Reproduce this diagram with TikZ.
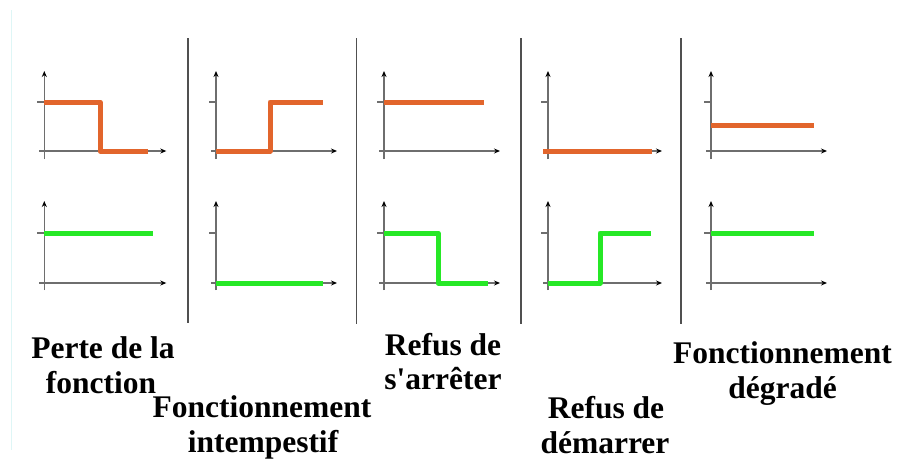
\documentclass[tikz,border=0pt]{standalone}
\usepackage{fontspec}
\newfontfamily\lblfont{Liberation Serif}
\usetikzlibrary{arrows.meta}
\definecolor{curveorange}{RGB}{226,101,44}
\definecolor{curvegreen}{RGB}{38,232,38}
\definecolor{axisgray}{RGB}{110,110,110}
\definecolor{sepgray}{RGB}{80,80,80}
\definecolor{faintcyan}{RGB}{222,246,246}
\tikzset{
  axisline/.style={draw=axisgray, line width=1.2pt},
  axisarrow/.style={axisline, -{Stealth[length=6pt,width=5pt,black]}},
  tickline/.style={draw=axisgray, line width=1.2pt},
  ocurve/.style={draw=curveorange, line width=5pt, line join=round},
  gcurve/.style={draw=curvegreen, line width=5pt, line join=round},
  sepline/.style={draw=sepgray, line width=1.5pt},
  lbl/.style={anchor=base, inner sep=0pt, font=\lblfont\fontsize{31.5}{35}\selectfont\bfseries}
}
\newcommand{\axespair}[2]{%
  % #1 = x of y-axis, #2 = length of x-axis beyond y-axis
  \draw[axisarrow] (#1-5,151) -- (#1+#2,151);
  \draw[axisarrow] (#1,159) -- (#1,71);
  \draw[tickline] (#1-7,102) -- (#1,102);
  \draw[axisarrow] (#1-5,283) -- (#1+#2,283);
  \draw[axisarrow] (#1,290) -- (#1,201);
  \draw[tickline] (#1-7,233) -- (#1,233);
}
\begin{document}
\begin{tikzpicture}[x=1pt,y=-1pt]
\useasboundingbox (0,0) rectangle (897,459);
\fill[white] (0,0) rectangle (897,459);
\draw[faintcyan, line width=1.5pt] (11.5,10) -- (11.5,450);
% separators
\draw[sepline] (188,38) -- (188,323);
\draw[sepline] (356.5,38) -- (356.5,324);
\draw[sepline] (521,38) -- (521,324);
\draw[sepline] (681,38) -- (681,324);
% axes
\axespair{44.3}{122}
\axespair{216}{121}
\axespair{384}{116}
\axespair{548}{114}
\axespair{711}{116}
% curves
\draw[ocurve] (44.3,102) -- (100,102) -- (100,151) -- (148,151);
\draw[gcurve] (44.3,233) -- (153,233);
\draw[ocurve] (216,151) -- (270,151) -- (270,102) -- (323,102);
\draw[gcurve] (216,283) -- (323,283);
\draw[ocurve] (384,102) -- (484,102);
\draw[gcurve] (384,233) -- (438,233) -- (438,283) -- (488,283);
\draw[ocurve] (543,151.5) -- (652,151.5);
\draw[gcurve] (548,283) -- (600,283) -- (600,233) -- (651,233);
\draw[ocurve] (711,125) -- (814,125);
\draw[gcurve] (711,233) -- (814,233);
% labels
\node[lbl] (t1a) at (103,358) {Perte de la};
\node[lbl] (t1b) at (101,393) {fonction};
\node[lbl] (t2a) at (262,417) {Fonctionnement};
\node[lbl] (t2b) at (263,452) {intempestif};
\node[lbl] (t3a) at (443,355) {Refus de};
\node[lbl] (t3b) at (443,389) {s'arrêter};
\node[lbl] (t4a) at (606,418) {Refus de};
\node[lbl] (t4b) at (605,453) {démarrer};
\node[lbl] (t5a) at (782.5,363) {Fonctionnement};
\node[lbl] (t5b) at (782.5,398) {dégradé};
\end{tikzpicture}
\end{document}
